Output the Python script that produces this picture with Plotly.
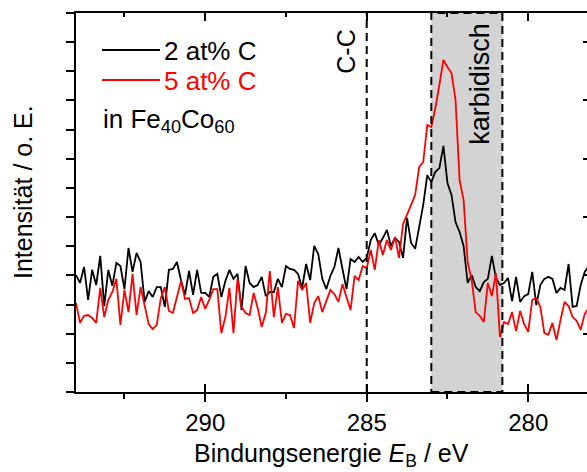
import plotly.graph_objects as go

# ---------------- data ----------------
energy = [
    294.0, 293.875, 293.75, 293.625, 293.5, 293.375, 293.25, 293.125,
    293.0, 292.875, 292.75, 292.625, 292.5, 292.375, 292.25, 292.125,
    292.0, 291.875, 291.75, 291.625, 291.5, 291.375, 291.25, 291.125,
    291.0, 290.875, 290.75, 290.625, 290.5, 290.375, 290.25, 290.125,
    290.0, 289.875, 289.75, 289.625, 289.5, 289.375, 289.25, 289.125,
    289.0, 288.875, 288.75, 288.625, 288.5, 288.375, 288.25, 288.125,
    288.0, 287.875, 287.75, 287.625, 287.5, 287.375, 287.25, 287.125,
    287.0, 286.875, 286.75, 286.625, 286.5, 286.375, 286.25, 286.125,
    286.0, 285.875, 285.75, 285.625, 285.5, 285.375, 285.25, 285.125,
    285.0, 284.875, 284.75, 284.625, 284.5, 284.375, 284.25, 284.125,
    284.0, 283.875, 283.75, 283.625, 283.5, 283.375, 283.25, 283.125,
    283.0, 282.875, 282.75, 282.625, 282.5, 282.375, 282.25, 282.125,
    282.0, 281.875, 281.75, 281.625, 281.5, 281.375, 281.25, 281.125,
    281.0, 280.875, 280.75, 280.625, 280.5, 280.375, 280.25, 280.125,
    280.0, 279.875, 279.75, 279.625, 279.5, 279.375, 279.25, 279.125,
    279.0, 278.875, 278.75, 278.625, 278.5, 278.375, 278.25, 278.125,
    278.0,
]

intensity_2C = [
    4.01, 3.74, 4.29, 3.16, 4.19, 3.67, 4.67, 2.95,
    4.19, 3.64, 4.43, 4.32, 3.53, 4.94, 4.12, 4.77,
    4.46, 3.09, 3.46, 3.26, 3.60, 3.60, 2.92, 4.19,
    4.22, 4.46, 3.84, 3.33, 4.15, 3.33, 4.19, 3.40,
    3.40, 3.26, 3.95, 4.05, 3.26, 3.81, 4.19, 3.88,
    4.05, 2.81, 4.32, 3.74, 3.60, 3.67, 3.95, 3.29,
    3.43, 3.43, 3.88, 3.60, 4.32, 4.22, 4.19, 4.05,
    3.57, 4.39, 3.84, 5.01, 4.73, 3.88, 3.53, 3.98,
    4.29, 4.94, 4.22, 3.53, 4.56, 4.46, 4.63, 4.46,
    4.60, 5.21, 5.45, 5.04, 5.28, 5.56, 5.01, 5.28,
    5.15, 4.60, 5.97, 5.11, 4.91, 5.73, 6.42, 7.44,
    7.20, 7.55, 7.68, 8.44, 7.17, 6.76, 5.83, 5.49,
    5.01, 3.74, 4.01, 3.60, 3.46, 3.77, 3.88, 4.67,
    3.91, 3.67, 3.74, 3.91, 3.12, 3.95, 3.09, 3.29,
    3.36, 4.12, 2.98, 3.67, 3.88, 3.95, 3.88, 3.40,
    3.57, 3.50, 4.39, 2.92, 2.95, 3.67, 4.12, 4.32,
    4.46,
]

intensity_5C = [
    3.05, 2.37, 2.61, 2.64, 2.54, 2.37, 3.57, 2.57,
    3.16, 3.43, 3.88, 2.30, 3.50, 2.74, 4.05, 2.64,
    3.60, 2.92, 2.33, 2.16, 2.30, 3.22, 3.60, 2.78,
    2.71, 3.26, 3.81, 3.19, 3.22, 2.71, 2.81, 3.26,
    2.85, 3.16, 3.53, 3.53, 2.02, 2.57, 3.57, 2.02,
    3.88, 2.92, 2.71, 2.64, 3.40, 2.88, 2.23, 2.71,
    4.15, 2.57, 3.60, 2.37, 2.68, 2.64, 2.20, 3.81,
    3.50, 3.74, 2.37, 3.05, 3.29, 2.74, 3.09, 3.50,
    3.36, 3.09, 3.70, 3.22, 2.81, 3.98, 3.84, 4.32,
    4.25, 4.87, 4.19, 5.21, 4.70, 5.21, 4.87, 5.32,
    4.60, 5.76, 6.07, 6.42, 6.76, 7.72, 7.89, 9.16,
    9.09, 9.74, 10.53, 11.39, 11.15, 10.94, 10.02, 7.27,
    6.59, 4.46, 3.84, 2.74, 2.61, 2.40, 3.74, 3.29,
    4.08, 1.89, 2.40, 2.33, 2.74, 2.09, 2.78, 2.33,
    2.06, 3.16, 3.22, 2.92, 2.02, 1.96, 2.37, 1.78,
    2.47, 3.09, 2.95, 2.57, 2.44, 2.13, 2.68, 2.88,
    2.98,
]

series_names = ["2 at% C", "5 at% C"]
series_colors = ["black", "red"]
major_ticks = [290, 285, 280]
major_labels = ["290", "285", "280"]
minor_ticks = [292.5, 287.5, 282.5]
y_ticks_left = list(range(0, 14))
y_ticks_right = [2, 4, 6, 8, 10, 12]
x_range = [294.0, 278.18]
y_range = [0, 13]
cc_position = 285.0
carbide_band = [283.0, 280.8]

# ---------------- figure ----------------
FONT = "Liberation Sans, Arial, sans-serif"
W, H = 587, 472
ML, MR, MT, MB = 76, 0, 13, 80
PW, PH = W - ML - MR, H - MT - MB
DASH = "8px,5px"

def px_x(p):  # paper x from pixel
    return (p - ML) / PW

def px_y(p):  # paper y from pixel
    return (H - MB - p) / PH

fig = go.Figure()
for ys, nm, col in zip([intensity_2C, intensity_5C], series_names, series_colors):
    fig.add_trace(go.Scatter(x=energy, y=ys, mode="lines", name=nm,
                             line=dict(color=col, width=1.8),
                             showlegend=False, hoverinfo="skip"))
# carriers for the overlay axes (invisible)
fig.add_trace(go.Scatter(x=energy[:1], y=intensity_2C[:1], xaxis="x2", yaxis="y2",
                         mode="lines", line=dict(width=0), opacity=0,
                         showlegend=False, hoverinfo="skip"))
fig.add_trace(go.Scatter(x=energy[:1], y=intensity_2C[:1], xaxis="x3", yaxis="y",
                         mode="lines", line=dict(width=0), opacity=0,
                         showlegend=False, hoverinfo="skip"))

axis_common = dict(showgrid=False, zeroline=False, tickcolor="black", tickwidth=2,
                   linecolor="black", linewidth=2, fixedrange=True)

shapes = [
    dict(type="rect", xref="x", yref="y", x0=carbide_band[0], x1=carbide_band[1],
         y0=y_range[0], y1=y_range[1], fillcolor="#d3d3d3", line=dict(width=0), layer="below"),
    dict(type="rect", xref="x", yref="y", x0=carbide_band[0], x1=carbide_band[1],
         y0=y_range[0], y1=y_range[1], fillcolor="rgba(0,0,0,0)",
         line=dict(color="black", width=2, dash=DASH), layer="above"),
    dict(type="line", xref="x", yref="y", x0=cc_position, x1=cc_position,
         y0=y_range[0], y1=y_range[1], line=dict(color="black", width=2, dash=DASH), layer="above"),
]
# legend sample lines
for py_, col in zip([50, 80], series_colors):
    shapes.append(dict(type="line", xref="paper", yref="paper",
                       x0=px_x(102), x1=px_x(160), y0=px_y(py_), y1=px_y(py_),
                       line=dict(color=col, width=2)))

ann = []
for py_, nm, col in zip([50, 80], series_names, series_colors):
    ann.append(dict(xref="paper", yref="paper", x=px_x(162), y=px_y(py_ + 0.5), text=nm,
                    xanchor="left", yanchor="middle", showarrow=False,
                    font=dict(family=FONT, size=26, color=col)))
ann.append(dict(xref="paper", yref="paper", x=px_x(101), y=px_y(120),
                text="in Fe<sub>40</sub>Co<sub>60</sub>", xanchor="left", yanchor="middle",
                showarrow=False, font=dict(family=FONT, size=26, color="black")))
ann.append(dict(xref="x", yref="paper", x=cc_position, xshift=-21, y=px_y(52),
                text="C-C", textangle=-90, xanchor="center", yanchor="middle",
                showarrow=False, font=dict(family=FONT, size=25, color="black")))
ann.append(dict(xref="x", yref="paper", x=(carbide_band[0] + carbide_band[1]) / 2,
                xshift=13, y=px_y(84), text="karbidisch", textangle=-90,
                xanchor="center", yanchor="middle", showarrow=False,
                font=dict(family=FONT, size=27, color="black")))
ann.append(dict(xref="paper", yref="paper", x=px_x(23), y=px_y(192),
                text="Intensität / o. E.", textangle=-90, xanchor="center", yanchor="middle",
                showarrow=False, font=dict(family=FONT, size=25, color="black")))
ann.append(dict(xref="paper", yref="paper", x=px_x(331), y=px_y(455),
                text="Bindungsenergie <i>E</i><sub>B</sub> / eV", xanchor="center",
                yanchor="middle", showarrow=False,
                font=dict(family=FONT, size=25, color="black")))

fig.update_layout(
    width=W, height=H, autosize=False,
    margin=dict(l=ML, r=MR, t=MT, b=MB, pad=0),
    paper_bgcolor="white", plot_bgcolor="white",
    font=dict(family=FONT, size=24, color="black"),
    showlegend=False,
    xaxis=dict(range=x_range, tickmode="array", tickvals=major_ticks, ticktext=major_labels,
               ticks="outside", ticklen=8, showline=True, mirror=False,
               tickfont=dict(family=FONT, size=24, color="black"),
               minor=dict(tickmode="array", tickvals=minor_ticks, ticks="outside",
                          ticklen=5, tickwidth=2, tickcolor="black", showgrid=False),
               **axis_common),
    xaxis2=dict(range=x_range, overlaying="x", side="top", anchor="y2",
                tickmode="array", tickvals=major_ticks, showticklabels=False,
                ticks="inside", ticklen=8, showline=True,
                minor=dict(tickmode="array", tickvals=minor_ticks, ticks="inside",
                           ticklen=4, tickwidth=2, tickcolor="black", showgrid=False),
                **axis_common),
    xaxis3=dict(range=x_range, overlaying="x", side="bottom", anchor="y",
                tickmode="array", tickvals=major_ticks, showticklabels=False,
                ticks="inside", ticklen=8, showline=False, **axis_common),
    yaxis=dict(range=y_range, tickmode="array", tickvals=y_ticks_left, showticklabels=False,
               ticks="outside", ticklen=8, showline=True, **axis_common),
    yaxis2=dict(range=y_range, overlaying="y", side="right", anchor="x2",
                tickmode="array", tickvals=y_ticks_right, showticklabels=False,
                ticks="inside", ticklen=4, showline=False, **axis_common),
    shapes=shapes,
    annotations=ann,
)

fig.write_html("out.html", config={"displayModeBar": False})
